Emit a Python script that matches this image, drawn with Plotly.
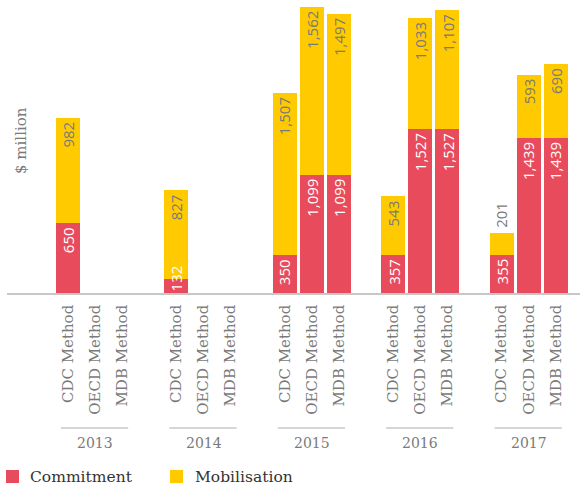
import plotly.graph_objects as go

years = ["2013", "2014", "2015", "2016", "2017"]
methods = ["CDC Method", "OECD Method", "MDB Method"]
series_names = ["Commitment", "Mobilisation"]
commitment = [650, None, None, 132, None, None, 350, 1099, 1099, 357, 1527, 1527, 355, 1439, 1439]
mobilisation = [982, None, None, 827, None, None, 1507, 1562, 1497, 543, 1033, 1107, 201, 593, 690]
colors = ["#E84B5C", "#FFCB00"]
label_colors = ["#FFFFFF", "#7A7A7A"]

# positions: each year group has 3 methods + one empty gap slot
xs, tick_text = [], []
for gi, y in enumerate(years):
    for mi, m in enumerate(methods):
        xs.append(gi * 4 + mi)
        tick_text.append(m)

W, H = 581, 488
ml, mr, mt, mb = 7, 1, 5, 195
plot_h = H - mt - mb
px_per_unit_y = 0.10748
ymax = plot_h / px_per_unit_y
slot_px = 27.1
x0_px = 68
xmin = (ml - x0_px) / slot_px
xmax = (W - mr - x0_px) / slot_px
bar_w = 24 / slot_px

fig = go.Figure()
for name, vals, c in zip(series_names, [commitment, mobilisation], colors):
    fig.add_trace(go.Bar(x=xs, y=vals, name=name, marker=dict(color=c, line=dict(width=0)),
                         width=bar_w, showlegend=False, hoverinfo="skip"))

label_font = dict(family="Open Sans", size=15)
annotations = []
text_len_px = 27
for i, x in enumerate(xs):
    base = 0
    for si, vals in enumerate([commitment, mobilisation]):
        v = vals[i]
        if v is None:
            continue
        top = base + v
        seg_px = v * px_per_unit_y
        txt = f"{v:,}"
        tl = text_len_px + (6 if v >= 1000 else 0)
        if seg_px >= tl + 4:
            annotations.append(dict(x=x, y=top, xref="x", yref="y", text=txt, textangle=-90,
                                    showarrow=False, yanchor="top", yshift=-2,
                                    font=dict(label_font, color=label_colors[si])))
        elif si == len(series_names) - 1:
            annotations.append(dict(x=x, y=top, xref="x", yref="y", text=txt, textangle=-90,
                                    showarrow=False, yanchor="bottom", yshift=3,
                                    font=dict(label_font, color=label_colors[si])))
        else:
            annotations.append(dict(x=x, y=base, xref="x", yref="y", text=txt, textangle=-90,
                                    showarrow=False, yanchor="bottom", yshift=0,
                                    font=dict(label_font, color=label_colors[si])))
        base = top

def py(pix):
    return (H - mb - pix) / plot_h

def pxp(pix):
    return (pix - ml) / (W - ml - mr)

shapes = []
for gi, y in enumerate(years):
    c = gi * 4
    shapes.append(dict(type="line", xref="x", yref="paper", x0=c - 0.26, x1=c + 2 + 0.22,
                       y0=py(428), y1=py(428), line=dict(color="#C8C8C8", width=1.5)))
    annotations.append(dict(x=c + 1, y=py(443), xref="x", yref="paper", text=y, showarrow=False,
                            xanchor="center", yanchor="middle",
                            font=dict(family="DejaVu Serif", size=14, color="#7A7A7A")))

annotations.append(dict(x=pxp(21), y=py(141), xref="paper", yref="paper", text="$ million",
                        textangle=-90, showarrow=False, xanchor="center", yanchor="middle",
                        font=dict(family="DejaVu Serif", size=15, color="#7A7A7A")))

leg_sq = [(6, 19), (170, 183)]
leg_txt = [28, 193]
for name, c, (a, b), t in zip(series_names, colors, leg_sq, leg_txt):
    shapes.append(dict(type="rect", xref="paper", yref="paper", x0=pxp(a), x1=pxp(b),
                       y0=py(483), y1=py(470), fillcolor=c, line=dict(width=0)))
    annotations.append(dict(x=pxp(t), y=py(477), xref="paper", yref="paper", text=name,
                            showarrow=False, xanchor="left", yanchor="middle",
                            font=dict(family="DejaVu Serif", size=15.5, color="#333333")))

fig.update_layout(
    width=W, height=H, barmode="stack", bargap=0,
    margin=dict(l=ml, r=mr, t=mt, b=mb),
    plot_bgcolor="white", paper_bgcolor="white",
    xaxis=dict(range=[xmin, xmax], tickvals=xs, ticktext=tick_text, tickangle=-90,
               ticks="", showgrid=False, zeroline=False, showline=True,
               linecolor="#C8C8C8", linewidth=1.5, ticklabelstandoff=4,
               tickfont=dict(family="DejaVu Serif", size=15, color="#7A7A7A")),
    yaxis=dict(range=[0, ymax], showticklabels=False, showgrid=False, zeroline=False,
               ticks="", showline=False),
    shapes=shapes, annotations=annotations,
)
fig.write_html("out.html", config={"displayModeBar": False},
               post_script="document.body.style.margin='0';document.body.style.overflow='hidden';")
